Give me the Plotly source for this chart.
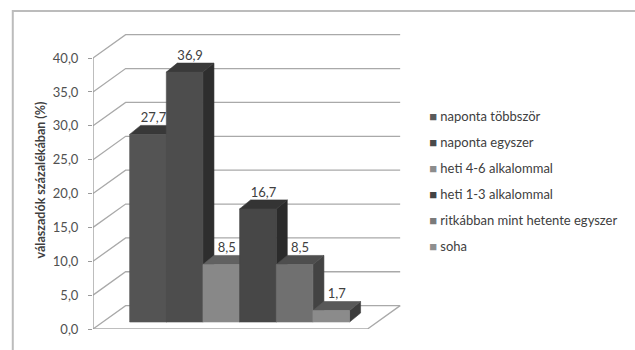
import plotly.graph_objects as go

# ---------------- data ----------------
categories = [
    "naponta többször",
    "naponta egyszer",
    "heti 4-6 alkalommal",
    "heti 1-3 alkalommal",
    "ritkábban mint hetente egyszer",
    "soha",
]
values = [27.7, 36.9, 8.5, 16.7, 8.5, 1.7]
tick_values = [0, 5, 10, 15, 20, 25, 30, 35, 40]
y_title = "válaszadók százalékában (%)"

# ---------------- style ----------------
front_colors = ["#545454", "#4d4d4d", "#888888", "#474747", "#707070", "#8b8b8b"]
top_colors = ["#383838", "#3a3a3a", "#616161", "#343434", "#4e4e4e", "#595959"]
side_colors = ["#323232", "#2e2e2e", "#505050", "#2b2b2b", "#434343", "#3c3c3c"]
legend_colors = ["#5a5a5a", "#4a4a4a", "#8c8c8c", "#444444", "#7a7a7a", "#8f8f8f"]
GRID = "#a9a9a9"
FONT = "Lato"

# 3D geometry (in axis units)
BAR_START = 1.0
BAR_W = 1.0
BASE = 1.03          # front plane of bars above floor front
DXB, DYB = 0.30, 1.33  # bar depth
DXW, DYW = 0.89, 3.45  # back wall offset
WALL_RIGHT = 8.38
FLOOR_RIGHT = 7.49
X_MAX, Y_MAX = 8.43, 44.0

fig = go.Figure()

# walls / gridlines / floor
gx, gy = [], []
for v in tick_values:
    gx += [0, DXW, WALL_RIGHT, None]
    gy += [v, v + DYW, v + DYW, None]
gx += [0, FLOOR_RIGHT, WALL_RIGHT, None]
gy += [0, 0, DYW, None]
fig.add_trace(go.Scatter(x=gx, y=gy, mode="lines", line=dict(color=GRID, width=1.3),
                         hoverinfo="skip", showlegend=False))
# front value axis line
fig.add_trace(go.Scatter(x=[0, 0], y=[0, tick_values[-1]], mode="lines",
                         line=dict(color="#9a9a9a", width=1.3), hoverinfo="skip", showlegend=False))


def poly(xs, ys, color):
    fig.add_trace(go.Scatter(x=xs + [xs[0]], y=ys + [ys[0]], mode="lines", fill="toself",
                             fillcolor=color, line=dict(color=color, width=0.6),
                             hoverinfo="skip", showlegend=False))


for i, v in enumerate(values):
    x0 = BAR_START + i * BAR_W
    x1 = x0 + BAR_W
    b, t = BASE, BASE + v
    # side face
    poly([x1, x1 + DXB, x1 + DXB, x1], [b, b + DYB, t + DYB, t], side_colors[i])
    # top face
    poly([x0, x0 + DXB, x1 + DXB, x1], [t, t + DYB, t + DYB, t], top_colors[i])
    # front face
    poly([x0, x1, x1, x0], [b, b, t, t], front_colors[i])

# data labels
fig.add_trace(go.Scatter(
    x=[BAR_START + i * BAR_W + BAR_W / 2 + DXB / 2 for i in range(len(values))],
    y=[BASE + v + DYB for v in values],
    mode="text",
    text=[f"{v:.1f}".replace(".", ",") for v in values],
    textposition="top center",
    textfont=dict(family=FONT, size=13, color="#404040"),
    hoverinfo="skip", showlegend=False,
))

# legend entries
for i, c in enumerate(categories):
    fig.add_trace(go.Scatter(
        x=[None], y=[None], mode="markers",
        marker=dict(color="rgba(0,0,0,0)", size=1),
        name=f'<span style="color:{legend_colors[i]}">■</span> {c}',
        legendgroup=f"g{i}",
    ))

W, H = 635, 350
ML, MR, MT, MB = 93, 230, 31, 21
pw, ph = W - ML - MR, H - MT - MB


def px_x(p):
    return (p - ML) / pw


def px_y(p):
    return (H - MB - p) / ph


fig.update_layout(
    width=W, height=H,
    margin=dict(l=ML, r=MR, t=MT, b=MB),
    paper_bgcolor="white", plot_bgcolor="white",
    separators=", ",
    font=dict(family=FONT, size=13, color="#505050"),
    showlegend=True,
    legend=dict(
        x=px_x(392), y=px_y(101), xanchor="left", yanchor="top",
        bgcolor="rgba(0,0,0,0)", itemwidth=30, tracegroupgap=6,
        font=dict(family=FONT, size=13, color="#404040"),
        itemclick=False, itemdoubleclick=False,
    ),
    xaxis=dict(range=[0, X_MAX], visible=False, fixedrange=True),
    yaxis=dict(
        range=[0, Y_MAX], tickvals=tick_values, tickformat=".1f",
        ticks="outside", ticklen=4, tickcolor="#9a9a9a", ticklabelstandoff=7,
        showgrid=False, zeroline=False, showline=False,
        tickfont=dict(family=FONT, size=13, color="#505050"),
        title=dict(text=f"<b>{y_title}</b>",
                   font=dict(family=FONT, size=12.5, color="#404040"),
                   standoff=4),
        fixedrange=True,
    ),
    shapes=[dict(type="rect", xref="paper", yref="paper",
                 x0=px_x(12), x1=px_x(700), y0=px_y(400), y1=px_y(11),
                 line=dict(color="#bcbcbc", width=2), fillcolor="rgba(0,0,0,0)", layer="below")],
)

fig.write_html("out.html")
